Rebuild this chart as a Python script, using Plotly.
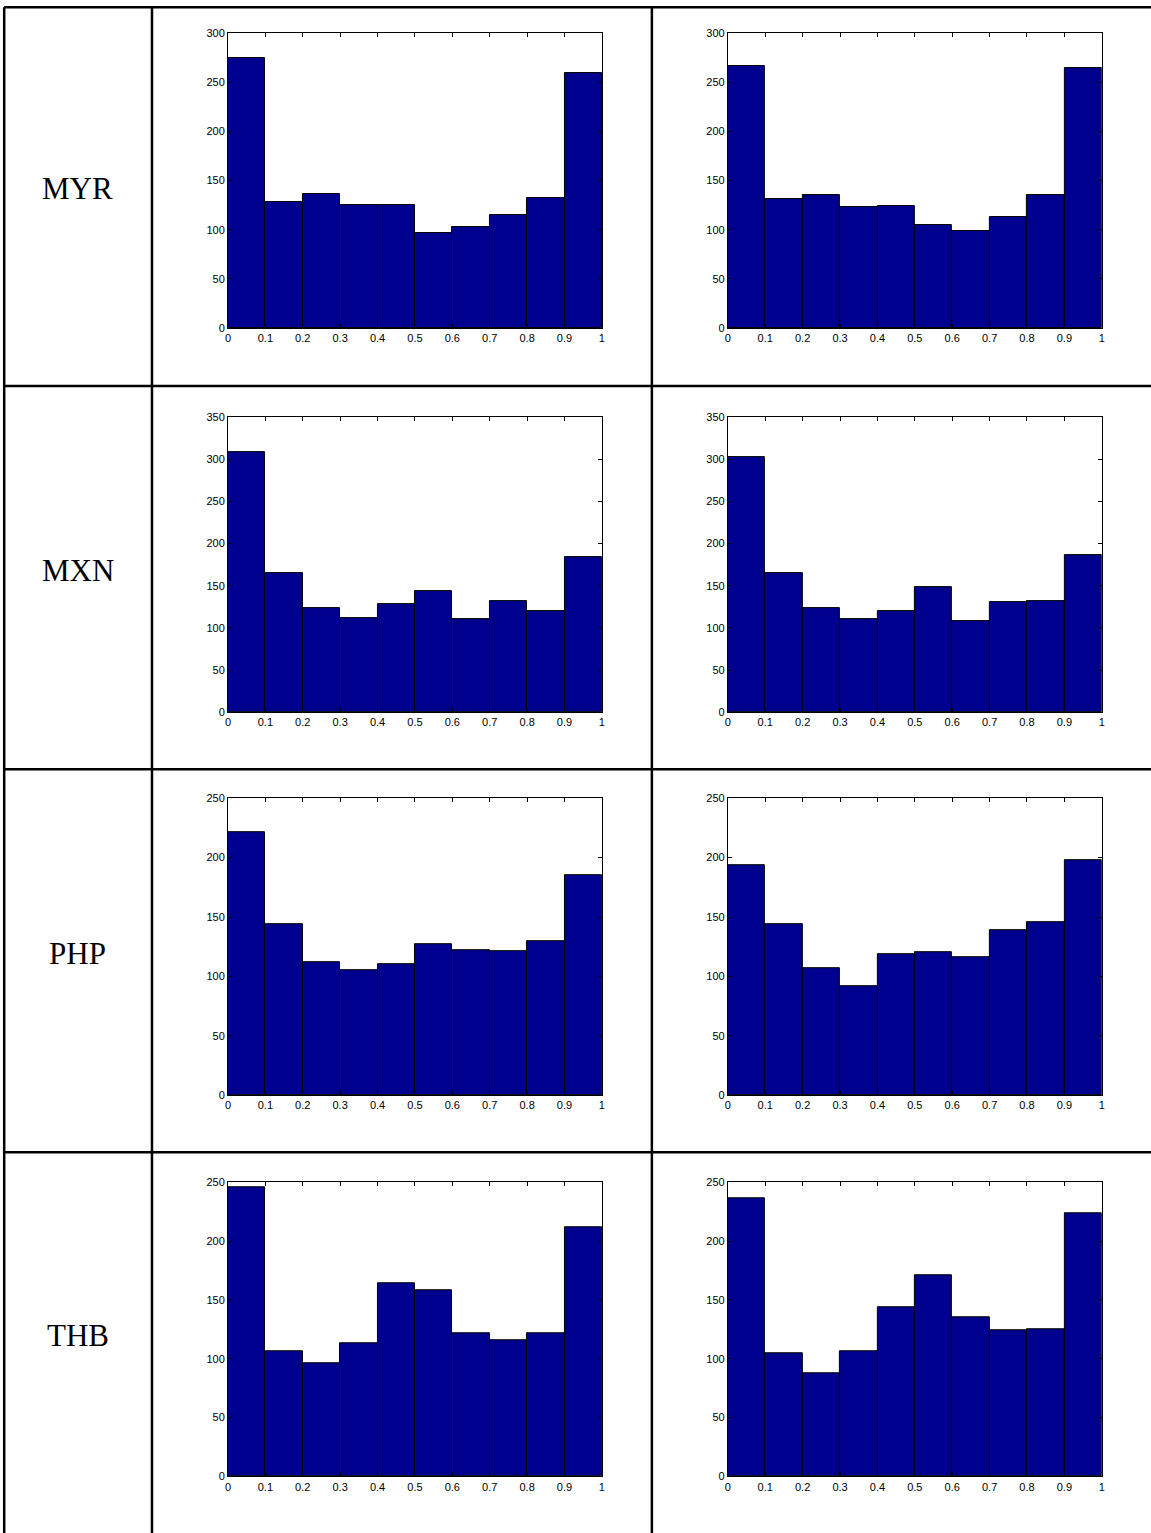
import plotly.graph_objects as go

W, H = 1151, 1533
# small correction for the capture scaling observed in earlier renders
SX, DX = 0.995, 3.0
SY, DY = 0.992, 6.0

currencies = ["MYR", "MXN", "PHP", "THB"]
bin_centers = [0.05, 0.15, 0.25, 0.35, 0.45, 0.55, 0.65, 0.75, 0.85, 0.95]
x_ticks = [0, 0.1, 0.2, 0.3, 0.4, 0.5, 0.6, 0.7, 0.8, 0.9, 1]
x_tick_labels = ["0", "0.1", "0.2", "0.3", "0.4", "0.5", "0.6", "0.7", "0.8", "0.9", "1"]

myr_left = [275, 128, 136, 125, 125, 97, 103, 115, 132, 259]
myr_right = [266, 131, 135, 123, 124, 105, 99, 113, 135, 264]
mxn_left = [309, 165, 124, 112, 128, 144, 110, 132, 120, 184]
mxn_right = [303, 165, 124, 110, 120, 148, 108, 130, 132, 186]
php_left = [221, 144, 112, 105, 110, 127, 122, 121, 130, 185]
php_right = [194, 144, 107, 92, 119, 120, 116, 139, 146, 198]
thb_left = [246, 106, 96, 113, 164, 158, 122, 116, 122, 212]
thb_right = [236, 105, 88, 106, 144, 171, 135, 124, 125, 224]

y_max = [300, 350, 250, 250]
y_step = 50

data = [(myr_left, myr_right), (mxn_left, mxn_right), (php_left, php_right), (thb_left, thb_right)]


def px(x):
    p = x / SX - DX
    return p / W


def py(y):
    p = y / SY - DY
    return 1 - p / H


# target pixel geometry
col_x = [(228, 602), (728, 1102)]
row_y = [(33, 328), (417, 712), (798, 1095), (1182, 1476)]
label_y = [188, 570, 953, 1335]

fig = go.Figure()
layout = {}
n = 0
for r in range(4):
    for c in range(2):
        n += 1
        vals = data[r][c]
        xa = "x" if n == 1 else f"x{n}"
        ya = "y" if n == 1 else f"y{n}"
        fig.add_trace(go.Bar(
            x=bin_centers, y=vals, width=0.1,
            marker=dict(color="#00008F", line=dict(color="black", width=1)),
            xaxis=xa, yaxis=ya, showlegend=False, hoverinfo="x+y",
        ))
        x0, x1 = col_x[c]
        y0, y1 = row_y[r]
        tickfont = dict(family="Liberation Sans Narrow, Liberation Sans, Arial", size=11, color="black")
        layout["xaxis" if n == 1 else f"xaxis{n}"] = dict(
            domain=[px(x0), px(x1)], anchor=ya, range=[0, 1],
            tickvals=x_ticks, ticktext=x_tick_labels, ticks="inside", ticklen=4,
            tickcolor="black", showline=True, linecolor="black", linewidth=1,
            mirror="ticks", showgrid=False, zeroline=False, tickfont=tickfont,
        )
        yt = list(range(0, y_max[r] + 1, y_step))
        layout["yaxis" if n == 1 else f"yaxis{n}"] = dict(
            domain=[py(y1), py(y0)], anchor=xa, range=[0, y_max[r]],
            tickvals=yt, ticktext=[str(v) for v in yt], ticks="inside", ticklen=4,
            tickcolor="black", showline=True, linecolor="black", linewidth=1,
            mirror="ticks", showgrid=False, zeroline=False, tickfont=tickfont,
        )

shapes = []
lw = 2.5
top_edge = 1 - 1.2 / H
left_edge = 1.2 / W
for xv in [152, 652]:
    shapes.append(dict(type="line", xref="paper", yref="paper", x0=px(xv), x1=px(xv),
                       y0=-0.05, y1=top_edge, line=dict(color="black", width=lw)))
shapes.append(dict(type="line", xref="paper", yref="paper", x0=left_edge, x1=left_edge,
                   y0=-0.05, y1=top_edge, line=dict(color="black", width=lw)))
shapes.append(dict(type="line", xref="paper", yref="paper", x0=left_edge, x1=1.05,
                   y0=top_edge, y1=top_edge, line=dict(color="black", width=lw)))
for yv in [386, 769, 1152]:
    shapes.append(dict(type="line", xref="paper", yref="paper", x0=left_edge, x1=1.05,
                       y0=py(yv), y1=py(yv), line=dict(color="black", width=lw)))

annotations = []
for r, name in enumerate(currencies):
    annotations.append(dict(text=name, xref="paper", yref="paper", x=px(78), y=py(label_y[r]),
                            showarrow=False, xanchor="center", yanchor="middle",
                            font=dict(family="Liberation Serif, Times New Roman", size=31, color="black")))

fig.update_layout(
    width=W, height=H, autosize=False, margin=dict(l=0, r=0, t=0, b=0),
    paper_bgcolor="white", plot_bgcolor="white", bargap=0,
    shapes=shapes, annotations=annotations, **layout,
)

fig.write_html(
    "out.html",
    config={"displayModeBar": False},
    post_script="document.body.style.margin='0';document.body.style.overflow='hidden';",
)
